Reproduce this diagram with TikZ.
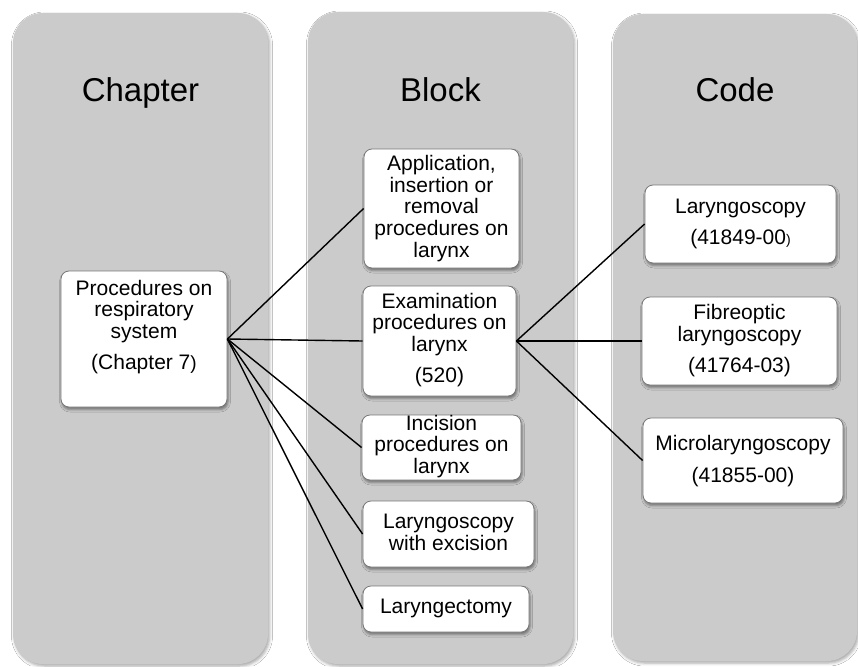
\documentclass[tikz,border=0pt]{standalone}
\usepackage{fontspec}
\setmainfont{Liberation Sans}
\usetikzlibrary{shadows.blur}
\definecolor{colfill}{RGB}{203,203,203}
\definecolor{boxline}{RGB}{120,120,120}
\begin{document}
\begin{tikzpicture}[x=1pt,y=-1pt,
  column/.style={fill=colfill, rounded corners=30pt,
    blur shadow={shadow xshift=1.5pt, shadow yshift=-2pt, shadow blur radius=3pt, shadow opacity=35}},
  title/.style={anchor=base, font=\fontsize{33}{36}\selectfont, text=black, inner sep=0pt},
  box/.style={draw=boxline, line width=0.8pt, fill=white, rounded corners=8pt, inner sep=0pt,
    blur shadow={shadow xshift=1pt, shadow yshift=-2.5pt, shadow blur radius=2.5pt, shadow opacity=45}},
  txt/.style={align=center, font=\fontsize{21}{21.7}\selectfont, inner sep=0pt, text=black},
  link/.style={draw=black, line width=1.4pt}]
\useasboundingbox (0,0) rectangle (858,666);
\fill[white] (0,0) rectangle (858,666);
% columns
\path[column] (13,13) rectangle (268,664);
\path[column] (308,12) rectangle (573,664);
\path[column] (613,14) rectangle (857,661);
\node[title] (t1) at (140.5,102) {Chapter};
\node[title] (t2) at (440.5,102) {Block};
\node[title] (t3) at (735,102) {Code};
% boxes
\node[box, minimum width=166pt, minimum height=136pt] (ch) at (144,339) {};
\node[txt] (chT) at (144,327) {Procedures on\\respiratory\\system\\[9.5pt](Chapter 7{\fontsize{19}{19}\selectfont )}};
\node[box, minimum width=155pt, minimum height=119pt] (A) at (441.5,208.5) {};
\node[txt] (AT) at (441.5,208.5) {Application,\\insertion or\\removal\\procedures on\\larynx};
\node[box, minimum width=153pt, minimum height=110pt] (B) at (439.5,341) {};
\node[txt] (BT) at (439.5,340) {Examination\\procedures on\\larynx\\[9.5pt](520)};
\node[box, minimum width=159pt, minimum height=65pt] (C) at (441.5,447.5) {};
\node[txt] (CT) at (441.5,446.5) {Incision\\procedures on\\larynx};
\node[box, minimum width=171pt, minimum height=66pt] (D) at (448.5,534) {};
\node[txt] (DT) at (448.5,532.5) {Laryngoscopy\\with excision};
\node[box, minimum width=166pt, minimum height=46pt] (E) at (446,609) {};
\node[txt] (ET) at (446,608) {Laryngectomy};
\node[box, minimum width=191pt, minimum height=78pt] (F) at (740.5,224) {};
\node[txt] (FT) at (740.5,224) {Laryngoscopy\\[10pt](41849-00{\fontsize{14}{14}\selectfont )}};
\node[box, minimum width=195pt, minimum height=88pt] (G) at (739.5,341) {};
\node[txt] (GT) at (739.5,340.5) {Fibreoptic\\laryngoscopy\\[9.5pt](41764-03)};
\node[box, minimum width=200pt, minimum height=85pt] (H) at (743,460.5) {};
\node[txt] (HT) at (743,461) {Microlaryngoscopy\\[10pt](41855-00)};
% connectors
\foreach \n in {A,B,C,D,E} \draw[link] (ch.east) -- (\n.west);
\foreach \n in {F,G,H} \draw[link] (B.east) -- (\n.west);
\end{tikzpicture}
\end{document}
